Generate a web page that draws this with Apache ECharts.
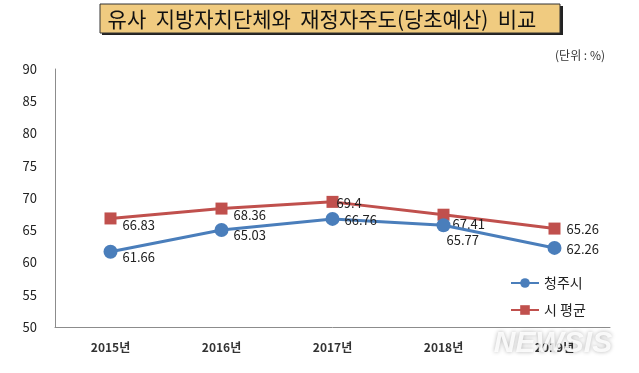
<!DOCTYPE html>
<html>
<head>
<meta charset="utf-8">
<script src="https://cdn.jsdelivr.net/npm/echarts@6/dist/echarts.min.js"></script>
<style>
html,body{margin:0;padding:0;background:#fff;}
#c{width:639px;height:373px;}
</style>
</head>
<body>
<div id="c"></div>
<script>
// ---- data ----
const categories = ['2015년', '2016년', '2017년', '2018년', '2019년'];
const cheongju = [61.66, 65.03, 66.76, 65.77, 62.26];
const cityAvg = [66.83, 68.36, 69.4, 67.41, 65.26];
const seriesNames = ['청주시', '시 평균'];
const titleText = '유사  지방자치단체와  재정자주도(당초예산)  비교';
const unitText = '(단위 : %)';

// ---- label style offsets (styles, not data) ----
const blueLabelOffsets = [[0, 5], [0, 5], [0, 1], [-9, 15], [0, 1]];
const redLabelOffsets = [[0, 7], [0, 6], [-8, 1], [-3, 9], [0, 0]];

const FONT = '"Noto Sans CJK KR", "Noto Sans", sans-serif';
const BLUE = '#4A7EBB';
const RED = '#C0504D';

function withLabels(values, offsets) {
  return values.map((v, i) => ({
    value: v,
    label: { offset: offsets[i] }
  }));
}

const chart = echarts.init(document.getElementById('c'), null, { renderer: 'canvas' });
chart.setOption({
  backgroundColor: '#fff',
  animation: false,
  textStyle: { fontFamily: FONT },
  grid: { left: 55, right: 29, top: 69, bottom: 46, containLabel: false },
  legend: {
    orient: 'vertical',
    left: 505,
    top: 271,
    itemWidth: 28,
    itemHeight: 12,
    itemGap: 13,
    textStyle: { fontSize: 14, color: '#222', fontFamily: FONT },
    data: seriesNames
  },
  xAxis: {
    type: 'category',
    data: categories,
    boundaryGap: true,
    axisLine: { lineStyle: { color: '#8c8c8c', width: 1 } },
    axisTick: { show: false },
    axisLabel: { margin: 14, fontSize: 12, color: '#333', fontWeight: 'bold', fontFamily: FONT }
  },
  yAxis: {
    type: 'value',
    min: 50,
    max: 90,
    interval: 5,
    axisLine: { show: true, lineStyle: { color: '#8c8c8c', width: 1 } },
    axisTick: { show: false },
    splitLine: { show: false },
    axisLabel: { margin: 18, fontSize: 13, color: '#222', fontFamily: FONT }
  },
  series: [
    {
      name: seriesNames[0],
      type: 'line',
      data: withLabels(cheongju, blueLabelOffsets),
      symbol: 'circle',
      symbolSize: 14,
      itemStyle: { color: BLUE },
      lineStyle: { color: BLUE, width: 3 },
      label: { show: true, position: 'right', distance: 5, fontSize: 13, color: '#222', fontFamily: FONT },
      z: 3
    },
    {
      name: seriesNames[1],
      type: 'line',
      data: withLabels(cityAvg, redLabelOffsets),
      symbol: 'rect',
      symbolSize: 12,
      itemStyle: { color: RED },
      lineStyle: { color: RED, width: 3 },
      label: { show: true, position: 'right', distance: 6, fontSize: 13, color: '#222', fontFamily: FONT },
      z: 2
    }
  ],
  graphic: [
    {
      type: 'rect',
      shape: { x: 102, y: 6, width: 461, height: 29 },
      style: { fill: '#222' },
      silent: true
    },
    {
      type: 'rect',
      shape: { x: 100, y: 4, width: 460, height: 29 },
      style: { fill: '#F0CB80', stroke: '#333', lineWidth: 1 },
      silent: true
    },
    {
      type: 'text',
      x: 322,
      y: 19,
      style: {
        text: titleText,
        fontSize: 21,
        fontFamily: FONT,
        fill: '#111',
        align: 'center',
        verticalAlign: 'middle'
      },
      silent: true
    },
    {
      type: 'text',
      x: 605,
      y: 55,
      style: {
        text: unitText,
        fontSize: 12,
        fontFamily: FONT,
        fill: '#333',
        align: 'right',
        verticalAlign: 'middle'
      },
      silent: true
    },
    {
      type: 'text',
      x: 553,
      y: 344,
      z: 100,
      style: {
        text: 'NEWSIS',
        fontSize: 30,
        fontStyle: 'italic',
        fontWeight: 'bold',
        fontFamily: 'Liberation Sans, Arial, sans-serif',
        fill: 'rgba(255,255,255,0.85)',
        textShadowColor: 'rgba(0,0,0,0.35)',
        textShadowBlur: 4,
        align: 'center',
        verticalAlign: 'middle'
      },
      silent: true
    }
  ]
});
</script>
</body>
</html>
